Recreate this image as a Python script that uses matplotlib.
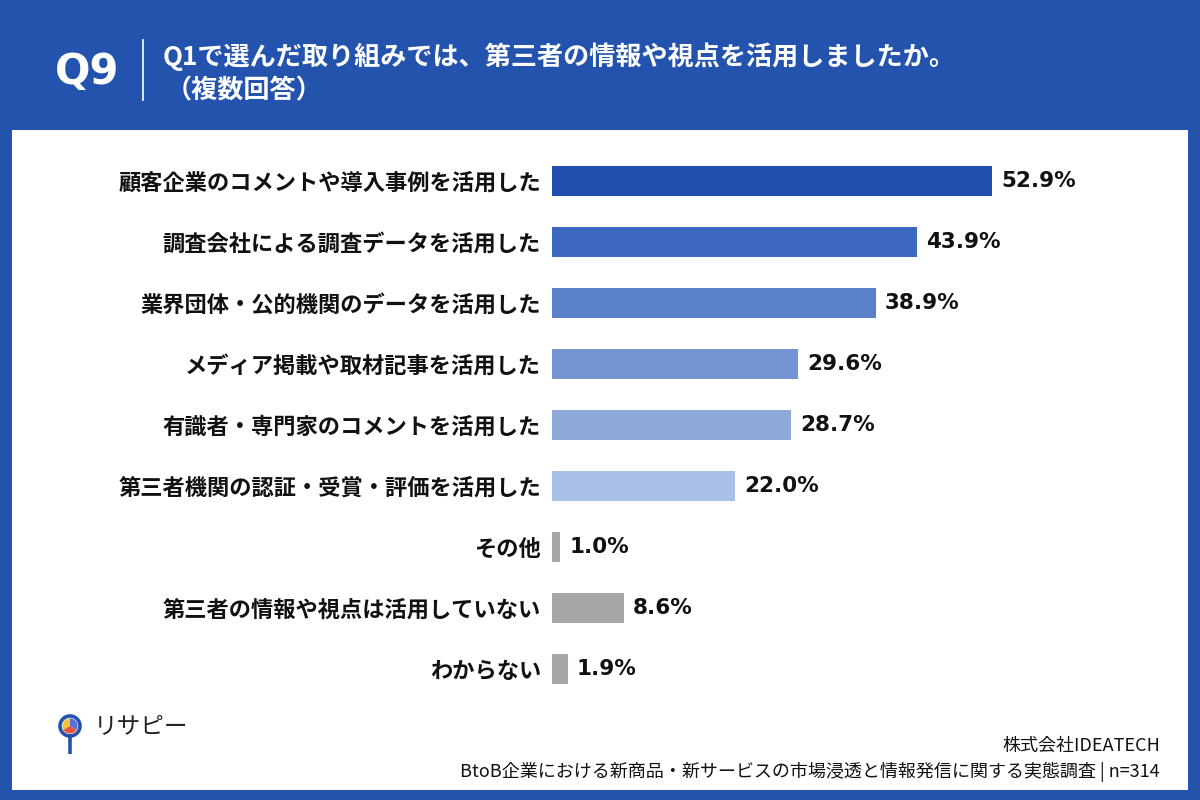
import matplotlib.pyplot as plt
from matplotlib.patches import Rectangle, Circle, Wedge

plt.rcParams["font.family"] = ["Noto Sans CJK JP", "DejaVu Sans"]

# data
categories = [
    "顧客企業のコメントや導入事例を活用した",
    "調査会社による調査データを活用した",
    "業界団体・公的機関のデータを活用した",
    "メディア掲載や取材記事を活用した",
    "有識者・専門家のコメントを活用した",
    "第三者機関の認証・受賞・評価を活用した",
    "その他",
    "第三者の情報や視点は活用していない",
    "わからない",
]
values = [52.9, 43.9, 38.9, 29.6, 28.7, 22.0, 1.0, 8.6, 1.9]
bar_colors = ["#2150AF", "#3C69BF", "#5A80C8", "#7394D0", "#8EA8D8", "#A8C0E6",
              "#A9A6AA", "#A9A6AA", "#A9A6AA"]

title_q = "Q9"
title_1 = "Q1で選んだ取り組みでは、第三者の情報や視点を活用しましたか。"
title_2 = "（複数回答）"
footer_1 = "株式会社IDEATECH"
footer_2 = "BtoB企業における新商品・新サービスの市場浸透と情報発信に関する実態調査 | n=314"

BLUE = "#2453AE"
W, H = 1200, 800

fig = plt.figure(figsize=(12, 8), dpi=100, facecolor=BLUE)


def fx(px):
    return px / W


def fy(py):
    return 1 - py / H


# white panel
fig.patches.append(Rectangle((fx(12), fy(790)), fx(1188) - fx(12), fy(130) - fy(790),
                             transform=fig.transFigure, facecolor="white",
                             edgecolor="none", zorder=-5))

# header
fig.text(fx(87), fy(72), title_q, color="white", fontsize=30, fontweight="bold",
         ha="center", va="center", family=["DejaVu Sans"])
fig.add_artist(plt.Line2D([fx(143), fx(143)], [fy(40), fy(100)], color="white",
                          linewidth=1.2, transform=fig.transFigure))
fig.text(fx(163), fy(57), title_1, color="white", fontsize=18.8, fontweight="bold",
         ha="left", va="center")
fig.text(fx(166), fy(91), title_2, color="white", fontsize=18.8, fontweight="bold",
         ha="left", va="center")

# bars
px_per_unit = 8.32
ax_left, ax_right = 552, 1180
ax_top, ax_bottom = 150, 700
ax = fig.add_axes([fx(ax_left), fy(ax_bottom), fx(ax_right - ax_left),
                   (ax_bottom - ax_top) / H])
ax.set_zorder(3)
ax.set_xlim(0, (ax_right - ax_left) / px_per_unit)
pos = list(range(len(values)))
step = 61.0
ax.set_ylim(8 + 31 / step, -31 / step)
ax.barh(pos, values, height=30 / step, color=bar_colors, edgecolor="none")
ax.set_facecolor("none")
for s in ax.spines.values():
    s.set_visible(False)
ax.set_xticks([])
ax.set_yticks(pos)
ax.set_yticklabels(categories, fontsize=16, fontweight="bold", color="#111111")
ax.tick_params(axis="y", length=0, pad=8)
for p, v in zip(pos, values):
    ax.text(v + 1.1, p, f"{v:.1f}%", va="center", ha="left", fontsize=15.5,
            fontweight="bold", color="#111111", family=["DejaVu Sans"])

# logo (pin icon)
lax = fig.add_axes([fx(50), fy(754), fx(40), 44 / H])
lax.set_zorder(3)
lax.set_xlim(-1, 1)
lax.set_ylim(-1.1, 1.1)
lax.set_aspect("equal")
lax.axis("off")
lax.add_patch(Wedge((0, 0.3), 0.38, 90, 210, facecolor="#F2C43A", edgecolor="none"))
lax.add_patch(Wedge((0, 0.3), 0.38, 210, 330, facecolor="#E8563F", edgecolor="none"))
lax.add_patch(Wedge((0, 0.3), 0.38, 330, 450, facecolor="#5B6FD8", edgecolor="none"))
lax.add_patch(Circle((0, 0.3), 0.5, facecolor="none", edgecolor="#2453AE",
                     linewidth=2.6))
lax.plot([0, 0], [-0.22, -1.05], color="#2453AE", linewidth=2.6)
fig.text(fx(94), fy(727), "リサピー", fontsize=17, color="#222222", ha="left",
         va="center")

# footer
fig.text(fx(1160), fy(746), footer_1, fontsize=13, color="#111111", ha="right",
         va="center")
fig.text(fx(1160), fy(772), footer_2, fontsize=13, color="#111111", ha="right",
         va="center")

fig.savefig("out.png", dpi=100, facecolor=BLUE)
